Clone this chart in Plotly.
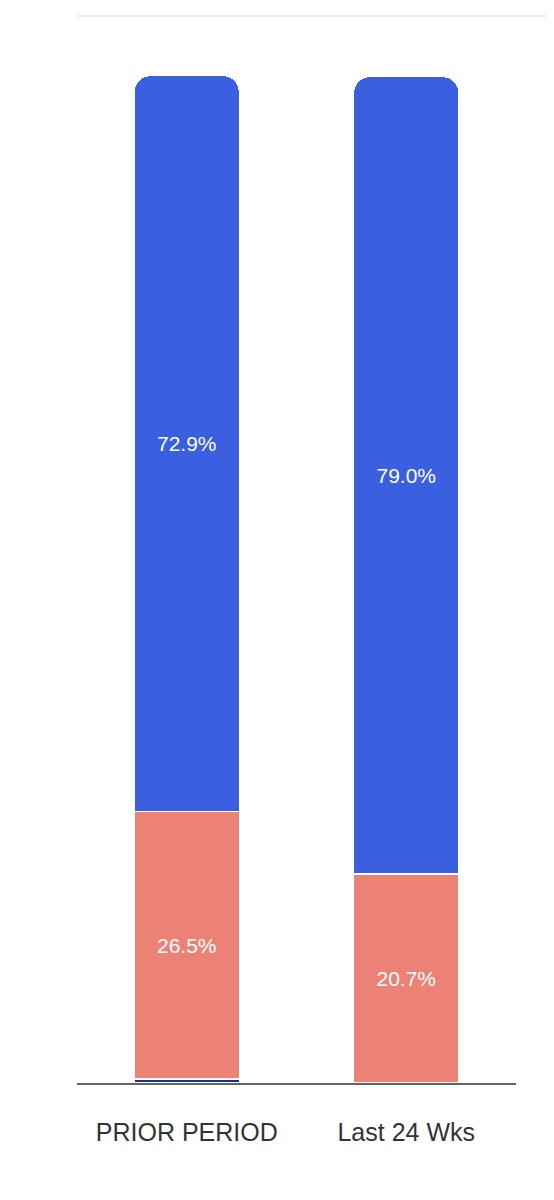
import plotly.graph_objects as go

periods = ["PRIOR PERIOD", "Last 24 Wks"]
other_share = [0.4, 0.0]
salmon_share = [26.5, 20.7]
blue_share = [72.9, 79.0]

NAVY = "#1f2d86"
SALMON = "#ec8275"
BLUE = "#3a5fe0"

fig = go.Figure()
fig.add_trace(go.Bar(x=periods, y=other_share, marker=dict(color=NAVY, line=dict(color="white", width=1.5)),
                     hoverinfo="skip"))
fig.add_trace(go.Bar(x=periods, y=salmon_share, marker=dict(color=SALMON, line=dict(color="white", width=1.5)),
                     text=[f"{v:.1f}%" for v in salmon_share], textposition="inside",
                     insidetextanchor="middle", textfont=dict(color="white", size=21)))
fig.add_trace(go.Bar(x=periods, y=blue_share, marker=dict(color=BLUE, line=dict(color="white", width=1.5)),
                     text=[f"{v:.1f}%" for v in blue_share], textposition="inside",
                     insidetextanchor="middle", textfont=dict(color="white", size=21)))

# light rule along the top of the plot area
fig.add_shape(type="line", xref="paper", yref="paper", x0=0, x1=1.2, y0=1, y1=1,
              line=dict(color="#e6e6e6", width=1.5))

fig.update_layout(
    width=554, height=1200,
    margin=dict(l=69, r=46, t=8, b=125),
    barmode="stack", bargap=0.52, barcornerradius=16,
    showlegend=False, plot_bgcolor="white", paper_bgcolor="white",
    font=dict(family="Liberation Sans, Arial, sans-serif", color="#333333"),
    uniformtext=dict(mode="show", minsize=10),
)
fig.update_xaxes(showline=True, linecolor="#666666", linewidth=2, ticks="",
                 tickfont=dict(size=25, color="#333333"), ticklabelstandoff=26)
fig.update_yaxes(range=[0, 105.7], showgrid=False, showticklabels=False, zeroline=False)

fig.write_html("out.html")
